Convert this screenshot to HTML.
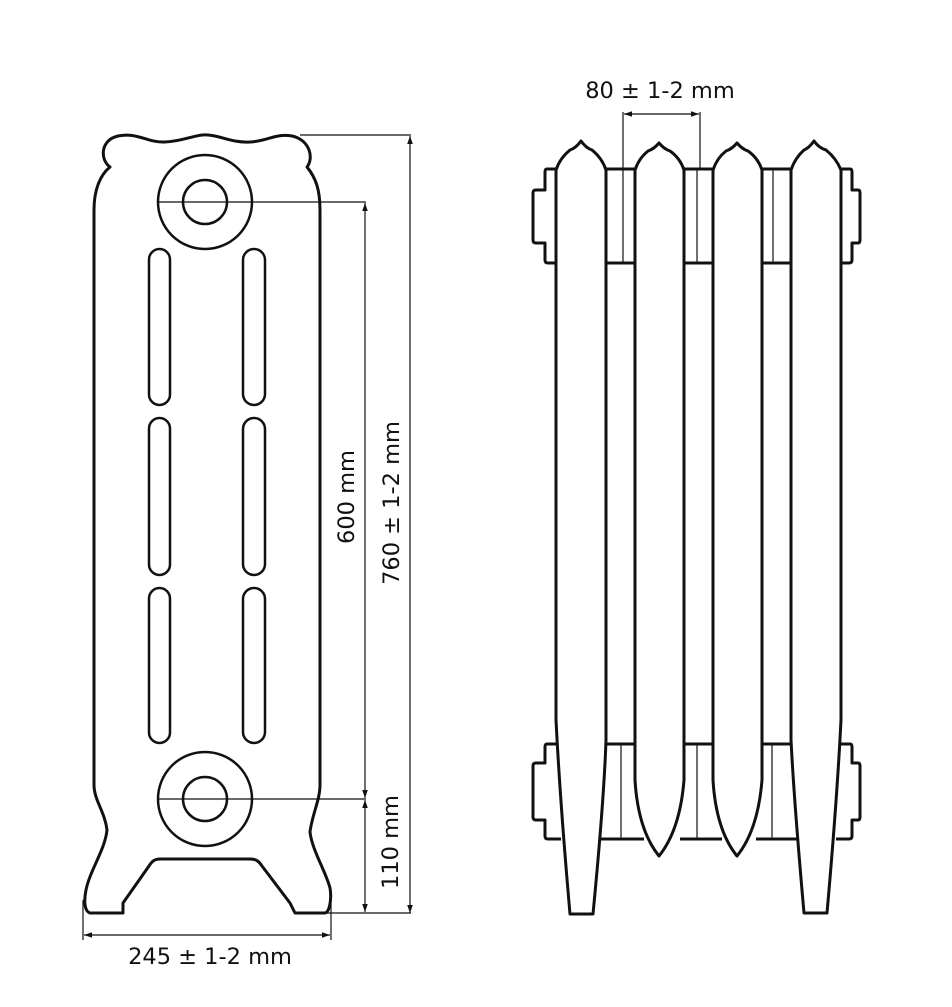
<!DOCTYPE html>
<html><head><meta charset="utf-8"><style>
html,body{margin:0;padding:0;background:#fff;}
svg{display:block;}
text{font-family:"DejaVu Sans","Liberation Sans",sans-serif;font-size:22.5px;fill:#111;}
</style></head><body>
<svg width="952" height="1007" viewBox="0 0 952 1007" xmlns="http://www.w3.org/2000/svg">
<defs>
<marker id="a" viewBox="0 0 10 10" refX="10" refY="5" markerWidth="12" markerHeight="8" markerUnits="userSpaceOnUse" orient="auto-start-reverse">
<path d="M0,1.5 L10,5 L0,8.5 Z" fill="#111"/></marker>
</defs>
<g fill="none" stroke="#111" stroke-width="3" stroke-linejoin="round">
<path d="M110,167 C100,160 100,140 118,136 C138,132 148,143 165,142 C185,141 195,134 208,135 C222,136 232,143 250,142 C268,141 276,133 292,136 C310,140 314,158 307,167
 C316,178 320,190 320,210 L320,785 C320,800 312,815 310,832 C312,850 326,872 330,888 C332,900 329,913 325,913 L295,913 L290,903 L262,866 C258,860 255,859 250,859 L160,859 C155,859 152,861 149,866 L123,903 L123,913 L90,913 C84,911 84,900 86,890 C90,870 105,850 107,830 C105,812 94,800 94,785 L94,210 C94,190 100,175 110,167 Z"/>
<circle cx="205" cy="202" r="47" stroke-width="2.5"/>
<circle cx="205" cy="202" r="22" stroke-width="2.5"/>
<circle cx="205" cy="799" r="47" stroke-width="2.5"/>
<circle cx="205" cy="799" r="22" stroke-width="2.5"/>
<g stroke-width="2.5">
<rect x="149" y="249" width="21" height="156" rx="10.5"/>
<rect x="243" y="249" width="22" height="156" rx="11"/>
<rect x="149" y="418" width="21" height="157" rx="10.5"/>
<rect x="243" y="418" width="22" height="157" rx="11"/>
<rect x="149" y="588" width="21" height="155" rx="10.5"/>
<rect x="243" y="588" width="22" height="155" rx="11"/>
</g>
</g>
<g stroke="#111" stroke-width="1.2" fill="none">
<line x1="300" y1="135" x2="411" y2="135"/>
<line x1="158" y1="202" x2="366" y2="202"/>
<line x1="158" y1="799" x2="366" y2="799"/>
<line x1="326" y1="913" x2="411" y2="913"/>
<line x1="410" y1="913" x2="410" y2="136" marker-end="url(#a)" marker-start="url(#a)"/>
<line x1="365" y1="203" x2="365" y2="798" marker-end="url(#a)" marker-start="url(#a)"/>
<line x1="365" y1="800" x2="365" y2="912" marker-end="url(#a)" marker-start="url(#a)"/>
<line x1="83" y1="900" x2="83" y2="940"/>
<line x1="331" y1="900" x2="331" y2="940"/>
<line x1="84" y1="935" x2="330" y2="935" marker-end="url(#a)" marker-start="url(#a)"/>
</g>
<text x="210" y="964" text-anchor="middle">245 ± 1-2 mm</text>
<text transform="translate(354,497) rotate(-90)" text-anchor="middle">600 mm</text>
<text transform="translate(399,503) rotate(-90)" text-anchor="middle">760 ± 1-2 mm</text>
<text transform="translate(398,842) rotate(-90)" text-anchor="middle">110 mm</text>
<g stroke="#111" stroke-width="1.2" fill="none">
<line x1="623" y1="112" x2="623" y2="263"/>
<line x1="700" y1="112" x2="700" y2="169"/>
<line x1="697" y1="169" x2="697" y2="263"/>
<line x1="773" y1="169" x2="773" y2="263"/>
<line x1="624" y1="114" x2="699" y2="114" marker-end="url(#a)" marker-start="url(#a)"/>
<line x1="621" y1="744" x2="621" y2="839"/>
<line x1="697" y1="744" x2="697" y2="839"/>
<line x1="772" y1="744" x2="772" y2="839"/>
</g>
<text x="660" y="98" text-anchor="middle">80 ± 1-2 mm</text>
<g fill="none" stroke="#111" stroke-width="3" stroke-linejoin="round">
<path d="M606,169 H635 M606,263 H635 M684,169 H713 M684,263 H713 M762,169 H791 M762,263 H791"/>
<path d="M606,744 H635 M600,839 H644 M684,744 H713 M680,839 H722 M762,744 H791 M756,839 H797"/>
<path d="M556,169 H547 Q545,169 545,172 V190 H536 Q533,190 533,193 V240 Q533,243 536,243 H545 V260 Q545,263 548,263 H556"/>
<path d="M841,169 H850 Q852,169 852,172 V190 H858 Q860,190 860,193 V240 Q860,243 858,243 H852 V260 Q852,263 849,263 H841"/>
<path d="M556,744 H547 Q545,744 545,747 V763 H536 Q533,763 533,766 V817 Q533,820 536,820 H545 V836 Q545,839 548,839 H561"/>
<path d="M841,744 H850 Q852,744 852,747 V763 H858 Q860,763 860,766 V817 Q860,820 858,820 H852 V836 Q852,839 849,839 H836"/>
<path d="M556,720 V170 Q560,158 570,150 Q576,148 581,141 Q586,148 592,150 Q602,158 606,170 V740 Q604,800 593,914 H570 Q560,800 556,720 Z"/>
<path d="M635,170 Q639,158 648,151 Q654,149 659,143 Q664,149 670,151 Q680,158 684,170 V780 Q680,830 659,856 Q638,830 635,780 Z"/>
<path d="M713,170 Q717,158 726,151 Q732,149 737,143 Q742,149 748,151 Q758,158 762,170 V780 Q758,830 737,856 Q716,830 713,780 Z"/>
<path d="M791,170 Q795,158 804,150 Q809,148 814,141 Q819,148 826,150 Q836,158 841,170 V720 Q837,800 827,913 H804 Q794,800 791,740 Z"/>
</g>
</svg>
</body></html>
